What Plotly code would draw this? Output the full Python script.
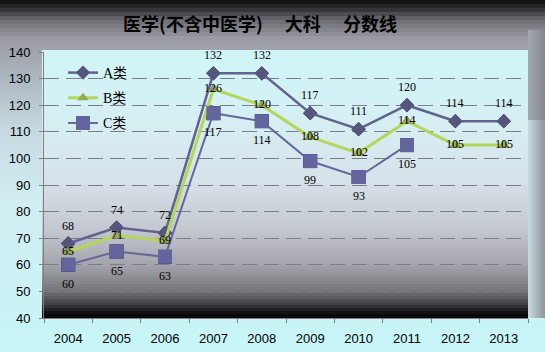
import plotly.graph_objects as go

years = ["2004", "2005", "2006", "2007", "2008", "2009", "2010", "2011", "2012", "2013"]
a_vals = [68, 74, 72, 132, 132, 117, 111, 120, 114, 114]
b_vals = [65, 71, 69, 126, 120, 108, 102, 114, 105, 105]
c_years = ["2004", "2005", "2006", "2007", "2008", "2009", "2010", "2011"]
c_vals = [60, 65, 63, 117, 114, 99, 93, 105]
y_ticks = [40, 50, 60, 70, 80, 90, 100, 110, 120, 130, 140]
title_text = "医学(不含中医学)\u3000\u00a0大科\u3000\u00a0分数线"

W, H = 545, 352
L, R, T, B = 42, 528, 50, 318


def px_x(px):
    return (px - L) / (R - L)


def px_y(py):
    return (B - py) / (B - T)


def hex2rgb(h):
    h = h.lstrip("#")
    return tuple(int(h[i:i + 2], 16) for i in (0, 2, 4))


def color_at(stops, pos):
    for i in range(len(stops) - 1):
        s0, c0 = stops[i]
        s1, c1 = stops[i + 1]
        if s0 <= pos <= s1:
            t = (pos - s0) / (s1 - s0) if s1 > s0 else 0
            r0, g0, b0 = hex2rgb(c0)
            r1, g1, b1 = hex2rgb(c1)
            return "rgb(%d,%d,%d)" % (r0 + (r1 - r0) * t, g0 + (g1 - g0) * t, b0 + (b1 - b0) * t)
    return stops[-1][1]


def vbands(stops, x0, x1, step=3):
    shapes = []
    p, p1 = stops[0][0], stops[-1][0]
    while p < p1:
        q = min(p + step, p1)
        shapes.append(dict(type="rect", xref="paper", yref="paper", layer="below",
                           x0=px_x(x0), x1=px_x(x1), y0=px_y(q + 0.6), y1=px_y(p),
                           fillcolor=color_at(stops, (p + q) / 2), line=dict(width=0)))
        p = q
    return shapes


def hbands(stops, y0, y1, step=2):
    shapes = []
    p, p1 = stops[0][0], stops[-1][0]
    while p < p1:
        q = min(p + step, p1)
        shapes.append(dict(type="rect", xref="paper", yref="paper", layer="below",
                           x0=px_x(p), x1=px_x(q + 0.6), y0=px_y(y1), y1=px_y(y0),
                           fillcolor=color_at(stops, (p + q) / 2), line=dict(width=0)))
        p = q
    return shapes


outer_stops = [(0, "#0c0c0c"), (8, "#2c2c2e"), (20, "#6c6c72"), (38, "#9a9aa2"),
               (70, "#aab2ba"), (130, "#c6dae0"), (200, "#d2eef2"), (352, "#c8f6f8")]
plot_stops = [(50, "#d0f6f8"), (120, "#d6f0f4"), (180, "#d8e2ea"), (230, "#c4c8d0"),
              (265, "#a4a4ac"), (290, "#78787e"), (304, "#404046"), (312, "#141414"), (318, "#000000")]
right_top_stops = [(528, "#a4a8b0"), (545, "#84868e")]
right_mid_stops = [(528, "#c8dce4"), (545, "#8e949c")]

shapes = []
shapes += vbands(outer_stops, 0, W, step=4)
shapes += hbands(right_top_stops, 30, 120, step=2)
shapes += hbands(right_mid_stops, 120, 318, step=2)
shapes += vbands(plot_stops, L, R, step=3)

fig = go.Figure()

a_col, b_col, c_col = "#62628e", "#b4d65a", "#66669a"

# marker shadows on the base axes (offset by axis domains)
fig.add_trace(go.Scatter(x=years, y=a_vals, mode="markers", xaxis="x", yaxis="y", showlegend=False,
                         marker=dict(symbol="diamond", size=11, color="#101018"), hoverinfo="skip"))
fig.add_trace(go.Scatter(x=years, y=b_vals, mode="markers", xaxis="x", yaxis="y", showlegend=False,
                         marker=dict(symbol="triangle-up", size=10, color="#101010"), hoverinfo="skip"))
fig.add_trace(go.Scatter(x=c_years, y=c_vals, mode="markers", xaxis="x", yaxis="y", showlegend=False,
                         marker=dict(symbol="square", size=14, color="#101018"), hoverinfo="skip"))

fig.add_trace(go.Scatter(x=years, y=a_vals, name="A类", mode="lines+markers", xaxis="x2", yaxis="y2",
                         legendgroup="a", line=dict(color=a_col, width=2.5),
                         marker=dict(symbol="diamond", size=11, color="#55557e")))
fig.add_trace(go.Scatter(x=years, y=b_vals, name="B类", mode="lines+markers", xaxis="x2", yaxis="y2",
                         legendgroup="b", line=dict(color=b_col, width=3),
                         marker=dict(symbol="triangle-up", size=10, color="#96a850")))
fig.add_trace(go.Scatter(x=c_years, y=c_vals, name="C类", mode="lines+markers", xaxis="x2", yaxis="y2",
                         legendgroup="c", line=dict(color=c_col, width=2),
                         marker=dict(symbol="square", size=14, color="#64649e")))

annots = []
lab_font = dict(family="Liberation Serif, DejaVu Serif", size=12, color="#000000")
# on category axes, numeric-looking strings are read as indices, so use the category index
for x, v in zip(years, a_vals):
    annots.append(dict(x=years.index(x), y=v, xref="x2", yref="y2", text=str(v), showarrow=False,
                       yshift=18, font=lab_font))
for x, v in zip(years, b_vals):
    annots.append(dict(x=years.index(x), y=v, xref="x2", yref="y2", text=str(v), showarrow=False,
                       yshift=1, font=lab_font))
for x, v in zip(c_years, c_vals):
    annots.append(dict(x=years.index(x), y=v, xref="x2", yref="y2", text=str(v), showarrow=False,
                       yshift=-19, font=lab_font))

dx = 2 / (R - L)
dy = 2 / (B - T)
grid = dict(showgrid=True, gridcolor="#7a7e86", griddash="15px,7px", gridwidth=1)
tfont = dict(family="Liberation Sans", size=13, color="#000000")

fig.update_layout(
    width=W, height=H,
    margin=dict(l=L, r=W - R, t=T, b=H - B),
    paper_bgcolor="rgba(0,0,0,0)", plot_bgcolor="rgba(0,0,0,0)",
    shapes=shapes,
    annotations=annots,
    title=dict(text="<b>" + title_text + "</b>", x=260 / W, xanchor="center", y=1 - 25 / H, yanchor="middle",
               font=dict(family="Noto Sans CJK SC", size=18, color="#000000")),
    xaxis=dict(type="category", categoryorder="array", categoryarray=years, range=[-0.5, 9.5],
               domain=[dx, 1], tickson="boundaries", ticks="outside", ticklen=4, tickcolor="#808080",
               showline=True, linecolor="#808080", showgrid=False, ticklabelstandoff=8, tickfont=tfont,
               automargin=False),
    yaxis=dict(range=[40, 140], domain=[0, 1 - dy], tickvals=y_ticks, ticks="outside", ticklen=4,
               tickcolor="#808080", showline=True, linecolor="#808080", zeroline=False,
               ticklabelstandoff=6, tickfont=tfont, automargin=False, **grid),
    xaxis2=dict(type="category", categoryorder="array", categoryarray=years, range=[-0.5, 9.5],
                domain=[0, 1 - dx], overlaying="x", showticklabels=False, ticks="", showgrid=False,
                showline=False, zeroline=False, automargin=False),
    yaxis2=dict(range=[40, 140], domain=[dy, 1], overlaying="y", showticklabels=False, ticks="",
                showgrid=False, showline=False, zeroline=False, automargin=False),
    legend=dict(x=px_x(63), y=px_y(57), xanchor="left", yanchor="top", bgcolor="rgba(0,0,0,0)",
                tracegroupgap=4, font=dict(family="Liberation Serif, Noto Sans CJK SC", size=14, color="#000000")),
    showlegend=True,
)

fig.write_html("out.html")
